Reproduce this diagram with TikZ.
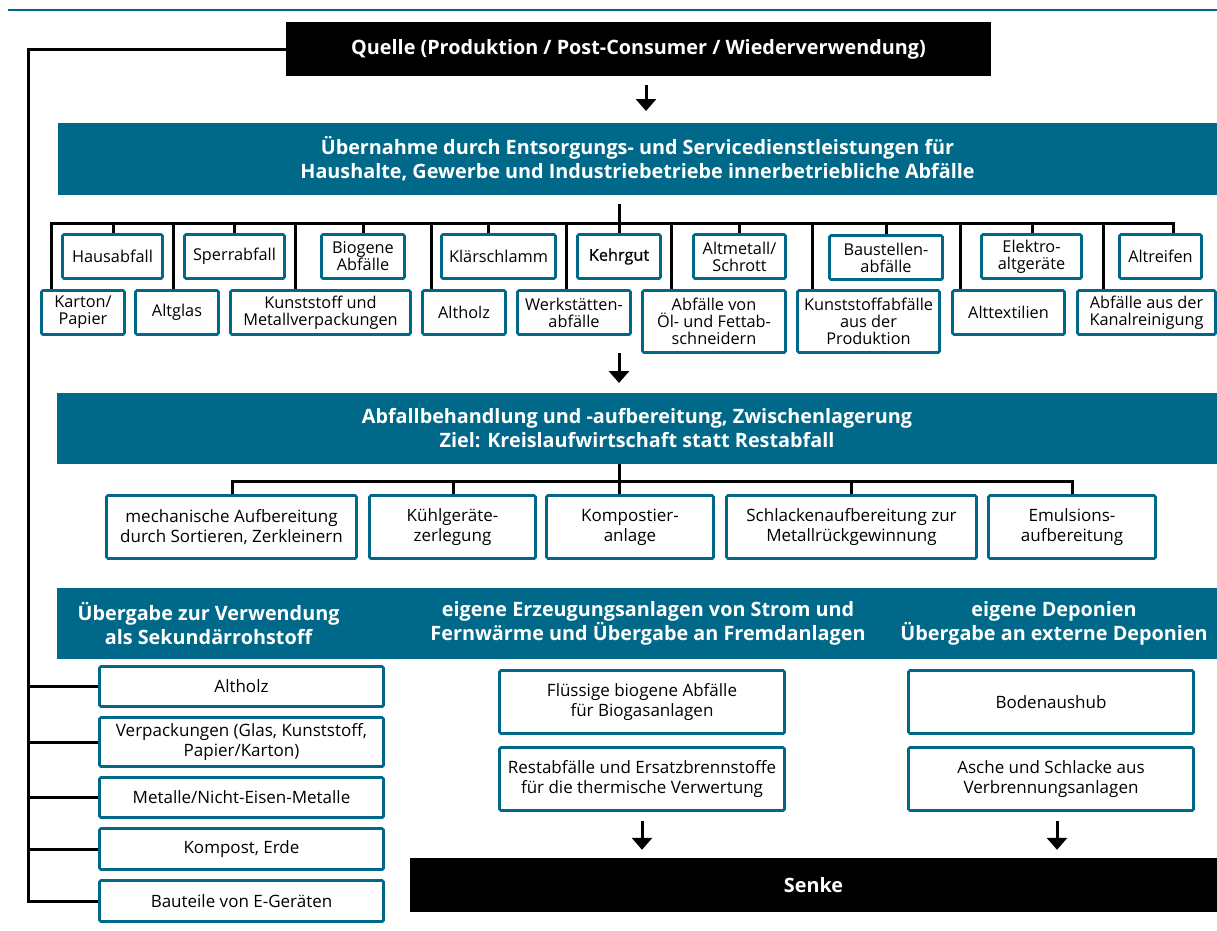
\documentclass[tikz,border=0pt]{standalone}
\usepackage{fontspec}
\setmainfont{Open Sans}
\usetikzlibrary{arrows.meta}
\definecolor{fhteal}{RGB}{0,104,136}

\begin{document}
\begin{tikzpicture}[x=1pt,y=-1pt,
  wastebox/.style={draw=fhteal, line width=2.8pt, fill=white, rounded corners=1.5pt,
    inner sep=1pt, align=center, font=\fontsize{16.3}{17}\selectfont},
  outbox/.style={wastebox, font=\fontsize{17}{20}\selectfont},
  headbar/.style={fill=fhteal, text=white, inner sep=0pt, align=center,
    font=\bfseries\fontsize{19.8}{24}\selectfont},
  blackbar/.style={headbar, fill=black},
  link/.style={line width=3pt},
  flow/.style={line width=3pt, -{Triangle[length=12pt,width=20pt]}}]
  \useasboundingbox (0,0) rectangle (1217,930);
  % Top rule
  \draw[fhteal, line width=1.5pt] (8,10) -- (1217,10);

  % Source and collection
  \node[blackbar, minimum width=705, minimum height=54] (quelle) at (638.5,49)
    {Quelle (Produktion / Post-Consumer / Wiederverwendung)};
  \node[headbar, minimum width=1159, minimum height=72] (uebernahme) at (637.5,159)
    {Übernahme durch Entsorgungs- und Servicedienstleistungen für\\
     Haushalte, Gewerbe und Industriebetriebe innerbetriebliche Abfälle};
  \coordinate (a1) at (646,85);
  \draw[flow] (a1) -- (646,111);

  % Waste types, upper row
  \node[wastebox, minimum width=100, minimum height=44] (haus) at (112.5,256.5) {Hausabfall};
  \node[wastebox, minimum width=100, minimum height=44] (sperr) at (234.5,256.5) {Sperrabfall};
  \node[wastebox, minimum width=83, minimum height=44] (biogen) at (363,256.5) {Biogene\\Abfälle};
  \node[wastebox, minimum width=114, minimum height=44] (klaer) at (498.5,256.5) {Klärschlamm};
  \node[wastebox, minimum width=83, minimum height=44, font=\fontsize{16.3}{17}\selectfont\addfontfeatures{FakeBold=0.6}] (kehr) at (619,256.5) {Kehrgut};
  \node[wastebox, minimum width=92, minimum height=44] (altmet) at (739.5,256.5) {Altmetall/\\Schrott};
  \node[wastebox, minimum width=113, minimum height=44] (baust) at (886,257.5) {Baustellen-\\abfälle};
  \node[wastebox, minimum width=100, minimum height=44] (elektro) at (1031.5,256.5) {Elektro-\\altgeräte};
  \node[wastebox, minimum width=82, minimum height=44] (reifen) at (1160.5,256.5) {Altreifen};
  % Waste types, lower row
  \node[wastebox, minimum width=83, minimum height=44] (karton) at (83,312.5) {Karton/\\Papier};
  \node[wastebox, minimum width=83, minimum height=44] (altglas) at (177,312.5) {Altglas};
  \node[wastebox, minimum width=180, minimum height=44] (kunstmet) at (320.5,312.5) {Kunststoff und\\Metallverpackungen};
  \node[wastebox, minimum width=83, minimum height=44] (altholz) at (464,312.5) {Altholz};
  \node[wastebox, minimum width=113, minimum height=44] (werk) at (574,312.5) {Werkstätten-\\abfälle};
  \node[wastebox, minimum width=143, minimum height=62] (oel) at (714,321.5) {Abfälle von\\Öl- und Fettab-\\schneidern};
  \node[wastebox, minimum width=142, minimum height=62] (kprod) at (868.5,321.5) {Kunststoffabfälle\\aus der\\Produktion};
  \node[wastebox, minimum width=112, minimum height=44] (textil) at (1008.5,312.5) {Alttextilien};
  \node[wastebox, minimum width=138, minimum height=44] (kanal) at (1146.5,312.5) {Abfälle aus der\\Kanalreinigung};
  % Bus to the waste types
  \draw[link] (karton.north -| 51,0) |- (1173,223) -- (reifen.north -| 1173,0);
  \draw[link] (619,204) -- (kehr.north);
  \foreach \n/\x in {haus/113, sperr/234, biogen/363, klaer/488, altmet/739,
                     baust/886, elektro/1032, altglas/173, kunstmet/295,
                     altholz/431, werk/566, oel/671, kprod/812, textil/960,
                     kanal/1103}
    \draw[link] (\x,223) -- (\n.north -| \x,0);

  % Treatment
  \node[headbar, minimum width=1160, minimum height=71] (behandlung) at (637,428.5)
    {Abfallbehandlung und -aufbereitung, Zwischenlagerung\\
     Ziel: Kreislaufwirtschaft statt Restabfall};
  \coordinate (a2) at (619,353);
  \draw[flow] (a2) -- (619,383);
  \node[outbox, minimum width=250, minimum height=63] (mech) at (231.5,527) {mechanische Aufbereitung\\durch Sortieren, Zerkleinern};
  \node[outbox, minimum width=166, minimum height=63] (kuehl) at (452.5,527) {Kühlgeräte-\\zerlegung};
  \node[outbox, minimum width=167, minimum height=63] (kompost) at (630,527) {Kompostier-\\anlage};
  \node[outbox, minimum width=250, minimum height=63] (schlacke) at (851.5,527) {Schlackenaufbereitung zur\\Metallrückgewinnung};
  \node[outbox, minimum width=167, minimum height=63] (emulsion) at (1072,527) {Emulsions-\\aufbereitung};
  \draw[link] (mech.north -| 232,0) |- (1072,481) -- (emulsion.north);
  \draw[link] (behandlung.south -| 619,0) -- (kompost.north -| 619,0);
  \draw[link] (453,481) -- (kuehl.north -| 453,0);
  \draw[link] (851,481) -- (schlacke.north -| 851,0);

  % Destinations
  \node[headbar, minimum width=1160, minimum height=71] (band) at (637,623.5) {};
  \node[headbar] (verwendung) at (208.5,623.5) {Übergabe zur Verwendung\\als Sekundärrohstoff};
  \node[headbar] (erzeugung) at (648,623.5) {eigene Erzeugungsanlagen von Strom und\\Fernwärme und Übergabe an Fremdanlagen};
  \node[headbar] (deponie) at (1054,623.5) {eigene Deponien\\Übergabe an externe Deponien};

  % Secondary raw materials
  \node[outbox, minimum width=284, minimum height=40] (s1) at (241.5,686.5) {Altholz};
  \node[outbox, minimum width=284, minimum height=49] (s2) at (241.5,742) {Verpackungen (Glas, Kunststoff,\\Papier/Karton)};
  \node[outbox, minimum width=284, minimum height=40] (s3) at (241.5,797.5) {Metalle/Nicht-Eisen-Metalle};
  \node[outbox, minimum width=284, minimum height=41] (s4) at (241.5,849) {Kompost, Erde};
  \node[outbox, minimum width=284, minimum height=41] (s5) at (241.5,901) {Bauteile von E-Geräten};
  \draw[link] (quelle.west) -| (28,0 |- s5.west) -- (s5.west);
  \foreach \n in {s1,s2,s3,s4}
    \draw[link] (28,0 |- \n.west) -- (\n.west);

  % Energy and landfill
  \node[outbox, minimum width=285, minimum height=63] (fluessig) at (642,702) {Flüssige biogene Abfälle\\für Biogasanlagen};
  \node[outbox, minimum width=285, minimum height=63] (rest) at (642,779) {Restabfälle und Ersatzbrennstoffe\\für die thermische Verwertung};
  \node[outbox, minimum width=285, minimum height=63] (boden) at (1051,702) {Bodenaushub};
  \node[outbox, minimum width=285, minimum height=63] (asche) at (1051,779) {Asche und Schlacke aus\\Verbrennungsanlagen};

  % Sink
  \node[blackbar, minimum width=807, minimum height=54] (senke) at (813.5,885) {Senke};
  \draw[flow, shorten <=9pt, shorten >=8pt] (rest.south) -- (rest.south |- senke.north);
  \draw[flow, shorten <=9pt, shorten >=8pt] (asche.south -| 1057,0) -- (senke.north -| 1057,0);
\end{tikzpicture}
\end{document}
